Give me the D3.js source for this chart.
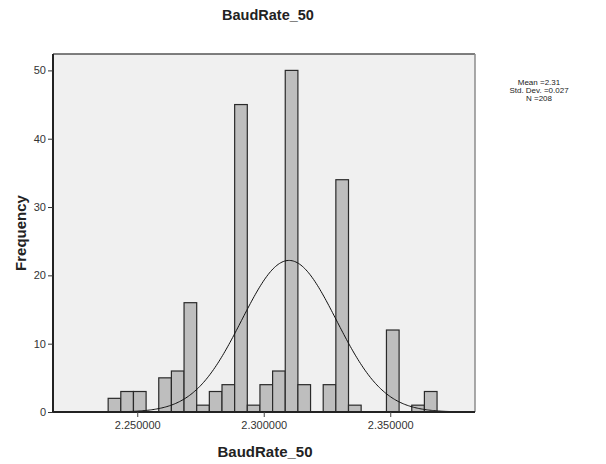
<!DOCTYPE html>
<html>
<head>
<meta charset="utf-8">
<script src="https://cdnjs.cloudflare.com/ajax/libs/d3/7.8.5/d3.min.js"></script>
<style>
body { margin:0; background:#fff; font-family:"Liberation Sans", Arial, sans-serif; }
.axis text { font-size:11px; font-family:"Liberation Sans", Arial, sans-serif; fill:#333; }
</style>
</head>
<body>
<script>
// histogram bins (left edges step binWidth) and counts
var binStart  = 2.2385;
var binWidth  = 0.005;
var counts    = [2,3,3,0,5,6,16,1,3,4,45,1,4,6,50,4,0,4,34,1,0,0,12,0,1,3];
var yTicks    = [0,10,20,30,40,50];
var xTicks    = [2.25,2.30,2.35];
var statLines = ["Mean =2.31","Std. Dev. =0.027","N =208"];
var curveMean = 2.31;
var curveSd   = 0.0187;  // spread of the drawn normal curve as it appears
var nTotal    = 208;

var width = 606, height = 464;
var margin = {left:53, right:131, top:54, bottom:52};
var plotW = width - margin.left - margin.right;
var plotH = height - margin.top - margin.bottom;

var svg = d3.select("body").append("svg").attr("width", width).attr("height", height);

var x = d3.scaleLinear().domain([2.2167, 2.3835]).range([0, plotW]);
var y = d3.scaleLinear().domain([0, 52.4]).range([plotH, 0]);

var g = svg.append("g").attr("transform", "translate("+margin.left+","+margin.top+")");

g.append("rect").attr("width", plotW).attr("height", plotH).attr("fill", "#f0f0f0");
// top and right frame
g.append("line").attr("x1",0).attr("y1",0).attr("x2",plotW).attr("y2",0).attr("stroke","#555").attr("stroke-width",1.5);
g.append("line").attr("x1",plotW).attr("y1",0).attr("x2",plotW).attr("y2",plotH).attr("stroke","#8c8c8c").attr("stroke-width",1.5);

var bins = counts.map(function(c, i){ return {x0: binStart + i*binWidth, x1: binStart + (i+1)*binWidth, n: c}; })
                 .filter(function(d){ return d.n > 0; });

g.selectAll("rect.bar").data(bins).enter().append("rect").attr("class","bar")
    .attr("x", function(d){ return x(d.x0); })
    .attr("width", function(d){ return x(d.x1) - x(d.x0); })
    .attr("y", function(d){ return y(d.n); })
    .attr("height", function(d){ return y(0) - y(d.n); })
    .attr("fill", "#bebebe").attr("stroke", "#2a2a2a").attr("stroke-width", 1.2);

// normal curve
var xs = d3.range(x.domain()[0], x.domain()[1], 0.0005);
var curve = d3.line()
    .x(function(v){ return x(v); })
    .y(function(v){
        var z = (v - curveMean) / curveSd;
        return y(nTotal * binWidth / (curveSd * Math.sqrt(2*Math.PI)) * Math.exp(-0.5*z*z));
    })
    .curve(d3.curveBasis);
g.append("path").attr("d", curve(xs)).attr("fill","none").attr("stroke","#111").attr("stroke-width",1);

// axes
var yAxis = d3.axisLeft(y).tickValues(yTicks).tickSize(5).tickPadding(2).tickFormat(d3.format("d"));
var xAxis = d3.axisBottom(x).tickValues(xTicks).tickSize(5).tickPadding(4).tickFormat(d3.format(".6f"));

var ya = g.append("g").attr("class","y axis").call(yAxis);
ya.select(".domain").attr("stroke","#222").attr("stroke-width",2).attr("d","M0,0V"+plotH);
ya.selectAll(".tick line").attr("stroke","#333");

var xa = g.append("g").attr("class","x axis").attr("transform","translate(0,"+plotH+")").call(xAxis);
xa.select(".domain").attr("stroke","#222").attr("stroke-width",2).attr("d","M0,0H"+plotW);
xa.selectAll(".tick line").attr("stroke","#444");

// titles
svg.append("text").attr("x", 268).attr("y", 20).attr("text-anchor","middle")
    .attr("font-size","14.5px").attr("font-weight","bold").attr("fill","#222").text("BaudRate_50");
svg.append("text").attr("x", 265).attr("y", 457).attr("text-anchor","middle")
    .attr("font-size","15px").attr("font-weight","bold").attr("fill","#222").text("BaudRate_50");
svg.append("text").attr("transform","translate(26,233) rotate(-90)").attr("text-anchor","middle")
    .attr("font-size","15px").attr("font-weight","bold").attr("fill","#222").text("Frequency");

svg.append("g").selectAll("text").data(statLines).enter().append("text")
    .attr("x", 539).attr("y", function(d,i){ return 85 + i*8; })
    .attr("text-anchor","middle").attr("font-size","8px").attr("fill","#222")
    .text(function(d){ return d; });
</script>
</body>
</html>
